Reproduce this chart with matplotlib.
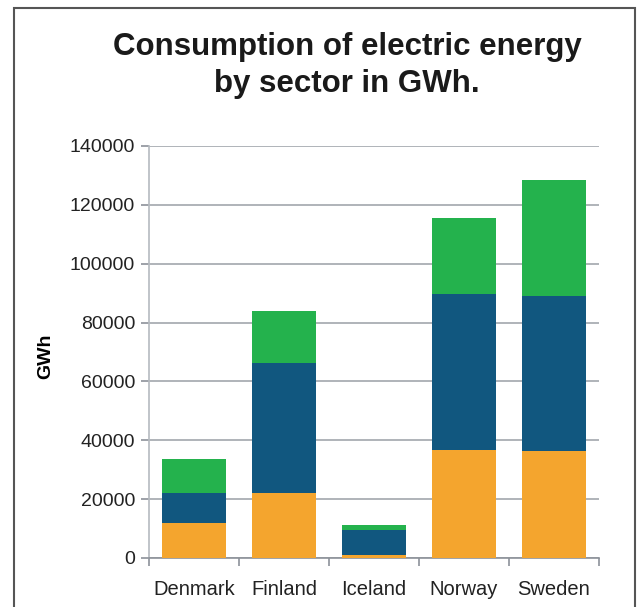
import numpy as np
import matplotlib.pyplot as plt
from matplotlib.patches import Rectangle

# GWh by sector, stacked bottom to top
countries = ["Denmark", "Finland", "Iceland", "Norway", "Sweden"]
sector1 = [11900, 22100, 1000, 36700, 36400]
sector2 = [10100, 44100, 8500, 53000, 52600]
sector3 = [11700, 17800, 1700, 25800, 39400]

colors = ["#F4A52E", "#11577F", "#24B24D"]

plt.rcParams["font.family"] = ["Liberation Sans", "DejaVu Sans"]

fig = plt.figure(figsize=(6.37, 6.07), dpi=100)
ax = fig.add_axes([149 / 637, 1 - 558 / 607, 450 / 637, 412 / 607])

x = np.arange(len(countries))
s1 = np.array(sector1)
s2 = np.array(sector2)
s3 = np.array(sector3)
ax.bar(x, s1, width=0.72, color=colors[0], zorder=3)
ax.bar(x, s2, width=0.72, bottom=s1, color=colors[1], zorder=3)
ax.bar(x, s3, width=0.72, bottom=s1 + s2, color=colors[2], zorder=3)

ax.set_xlim(-0.5, len(countries) - 0.5)
ax.set_ylim(0, 140000)
ax.set_yticks(np.arange(0, 140001, 20000))
ax.yaxis.grid(True, color="#9A9FA6", linewidth=1.1, zorder=0)

for side in ["top", "right"]:
    ax.spines[side].set_visible(False)
ax.spines["left"].set_color("#B5BAC0")
ax.spines["left"].set_linewidth(1.2)
ax.spines["bottom"].set_color("#8C9199")
ax.spines["bottom"].set_linewidth(1.2)

# category labels sit between boundary ticks
ax.set_xticks(np.arange(-0.5, len(countries), 1))
ax.set_xticklabels([])
ax.set_xticks(x, minor=True)
ax.set_xticklabels(countries, minor=True, fontsize=14.5, color="#222222")
ax.tick_params(axis="x", which="major", length=6, color="#8C9199", width=1.2)
ax.tick_params(axis="x", which="minor", length=0, pad=16)
ax.tick_params(axis="y", length=6, color="#8C9199", width=1.2,
               labelsize=14, labelcolor="#222222", pad=4)

ax.set_ylabel("GWh", fontsize=14, fontweight="bold", labelpad=0)
ax.yaxis.set_label_coords(-0.21, 0.49)

fig.text(0.545, 0.892, "Consumption of electric energy\nby sector in GWh.",
         ha="center", va="center", fontsize=22.5, fontweight="bold",
         linespacing=1.3, color="#1a1a1a")

# outer frame
fig.patches.append(Rectangle((14 / 637, -0.05), (635 - 14) / 637, 1.05 - 8 / 607,
                             transform=fig.transFigure, fill=False,
                             edgecolor="#555555", linewidth=1.5))

fig.savefig("out.png", dpi=100)
